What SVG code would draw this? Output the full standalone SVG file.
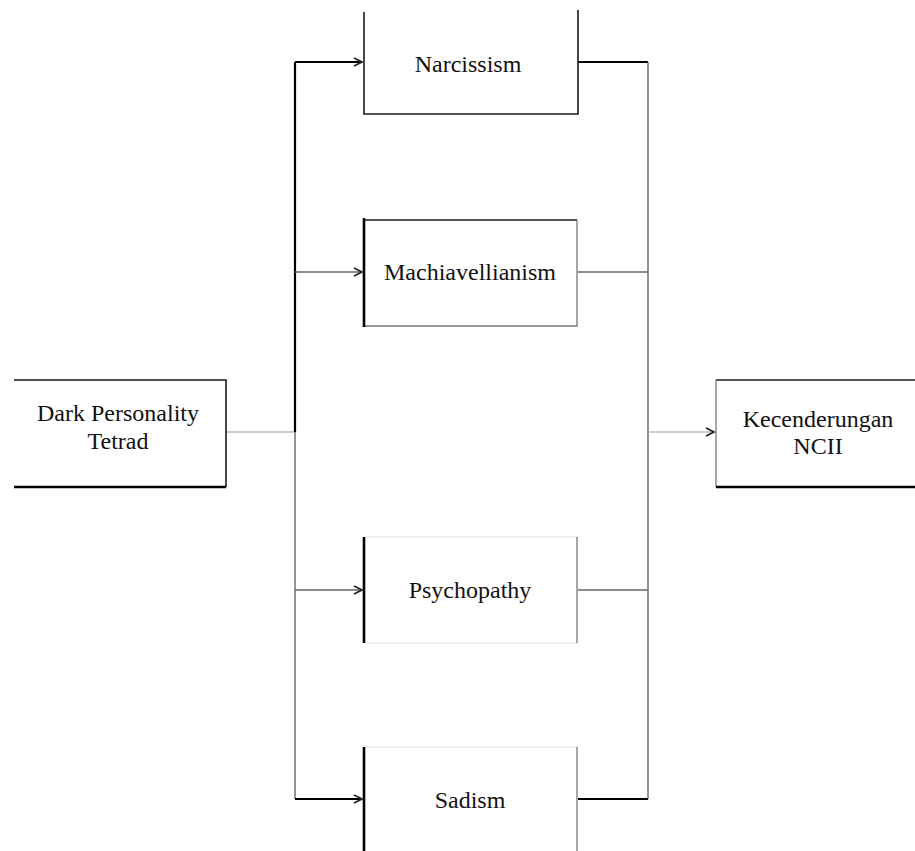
<svg xmlns="http://www.w3.org/2000/svg" width="915" height="851" viewBox="0 0 915 851">
<style>
.bg{fill:#fff}
.e{fill:none;stroke:#1a1a1a;stroke-width:1.6}
.ek{fill:none;stroke:#000;stroke-width:2.6}
.eg{fill:none;stroke:#777;stroke-width:1.3}
.ef{fill:none;stroke:#ddd;stroke-width:1}
.lbl{font-family:"Liberation Serif","Times New Roman",serif;font-size:24px;fill:#111;text-anchor:middle}
.c1{fill:none;stroke:#000;stroke-width:2.2}
.c2{fill:none;stroke:#666;stroke-width:1.4}
.c3{fill:none;stroke:#999;stroke-width:1.1}
</style>
<defs>
<marker id="arr" viewBox="0 0 10 10" refX="9" refY="5" markerWidth="10" markerHeight="10" markerUnits="userSpaceOnUse" orient="auto">
<path d="M1,1 L9,5 L1,9" fill="none" stroke="#222" stroke-width="1.6"/>
</marker>
</defs>
<rect width="915" height="851" fill="#fff"/>
<g id="connectors">
<path class="c3" d="M226,432 H295"/>
<path class="c1" d="M295,62 V432"/>
<path class="c2" d="M295,432 V799"/>
<path class="c1" d="M295,62 H362" marker-end="url(#arr)"/>
<path class="c2" d="M295,272 H362" marker-end="url(#arr)"/>
<path class="c2" d="M295,590 H362" marker-end="url(#arr)"/>
<path class="c1" d="M295,799 H362" marker-end="url(#arr)"/>
<path class="c1" d="M578,62 H648"/>
<path class="c2" d="M578,272 H648"/>
<path class="c2" d="M578,590 H648"/>
<path class="c1" d="M578,799 H648"/>
<path class="c2" d="M648,62 V799"/>
<path class="c3" d="M648,432 H714" marker-end="url(#arr)"/>
</g>
<g id="node-dark">
<rect class="bg" x="14" y="380" width="212" height="107"/>
<path class="e" d="M14,380 H226 V487"/>
<path class="ek" d="M14,487 H226"/>
<text class="lbl" x="118" y="421">Dark Personality</text>
<text class="lbl" x="118" y="449">Tetrad</text>
</g>
<g id="node-narcissism">
<rect class="bg" x="364" y="10" width="214" height="104"/>
<path class="e" d="M364,12 V114 H578 V10"/>
<text class="lbl" x="468" y="72">Narcissism</text>
</g>
<g id="node-machiavellianism">
<rect class="bg" x="364" y="220" width="213" height="106"/>
<path class="e" d="M364,220 H577"/>
<path class="eg" d="M577,220 V326 H364"/>
<path class="ek" d="M364,218 V327"/>
<text class="lbl" x="470" y="280">Machiavellianism</text>
</g>
<g id="node-psychopathy">
<rect class="bg" x="364" y="537" width="213" height="106"/>
<path class="ef" d="M364,537 H577 M364,643 H577"/>
<path class="eg" d="M577,537 V643"/>
<path class="ek" d="M364,537 V643"/>
<text class="lbl" x="470" y="598">Psychopathy</text>
</g>
<g id="node-sadism">
<rect class="bg" x="364" y="747" width="213" height="104"/>
<path class="ef" d="M364,747 H577"/>
<path class="eg" d="M577,747 V851"/>
<path class="ek" d="M364,747 V851"/>
<text class="lbl" x="470" y="808">Sadism</text>
</g>
<g id="node-ncii">
<rect class="bg" x="716" y="380" width="199" height="107"/>
<path class="e" d="M716,380 H915"/>
<path class="eg" d="M716,380 V487"/>
<path class="ek" d="M716,487 H915"/>
<text class="lbl" x="818" y="427">Kecenderungan</text>
<text class="lbl" x="818" y="454">NCII</text>
</g>
</svg>
